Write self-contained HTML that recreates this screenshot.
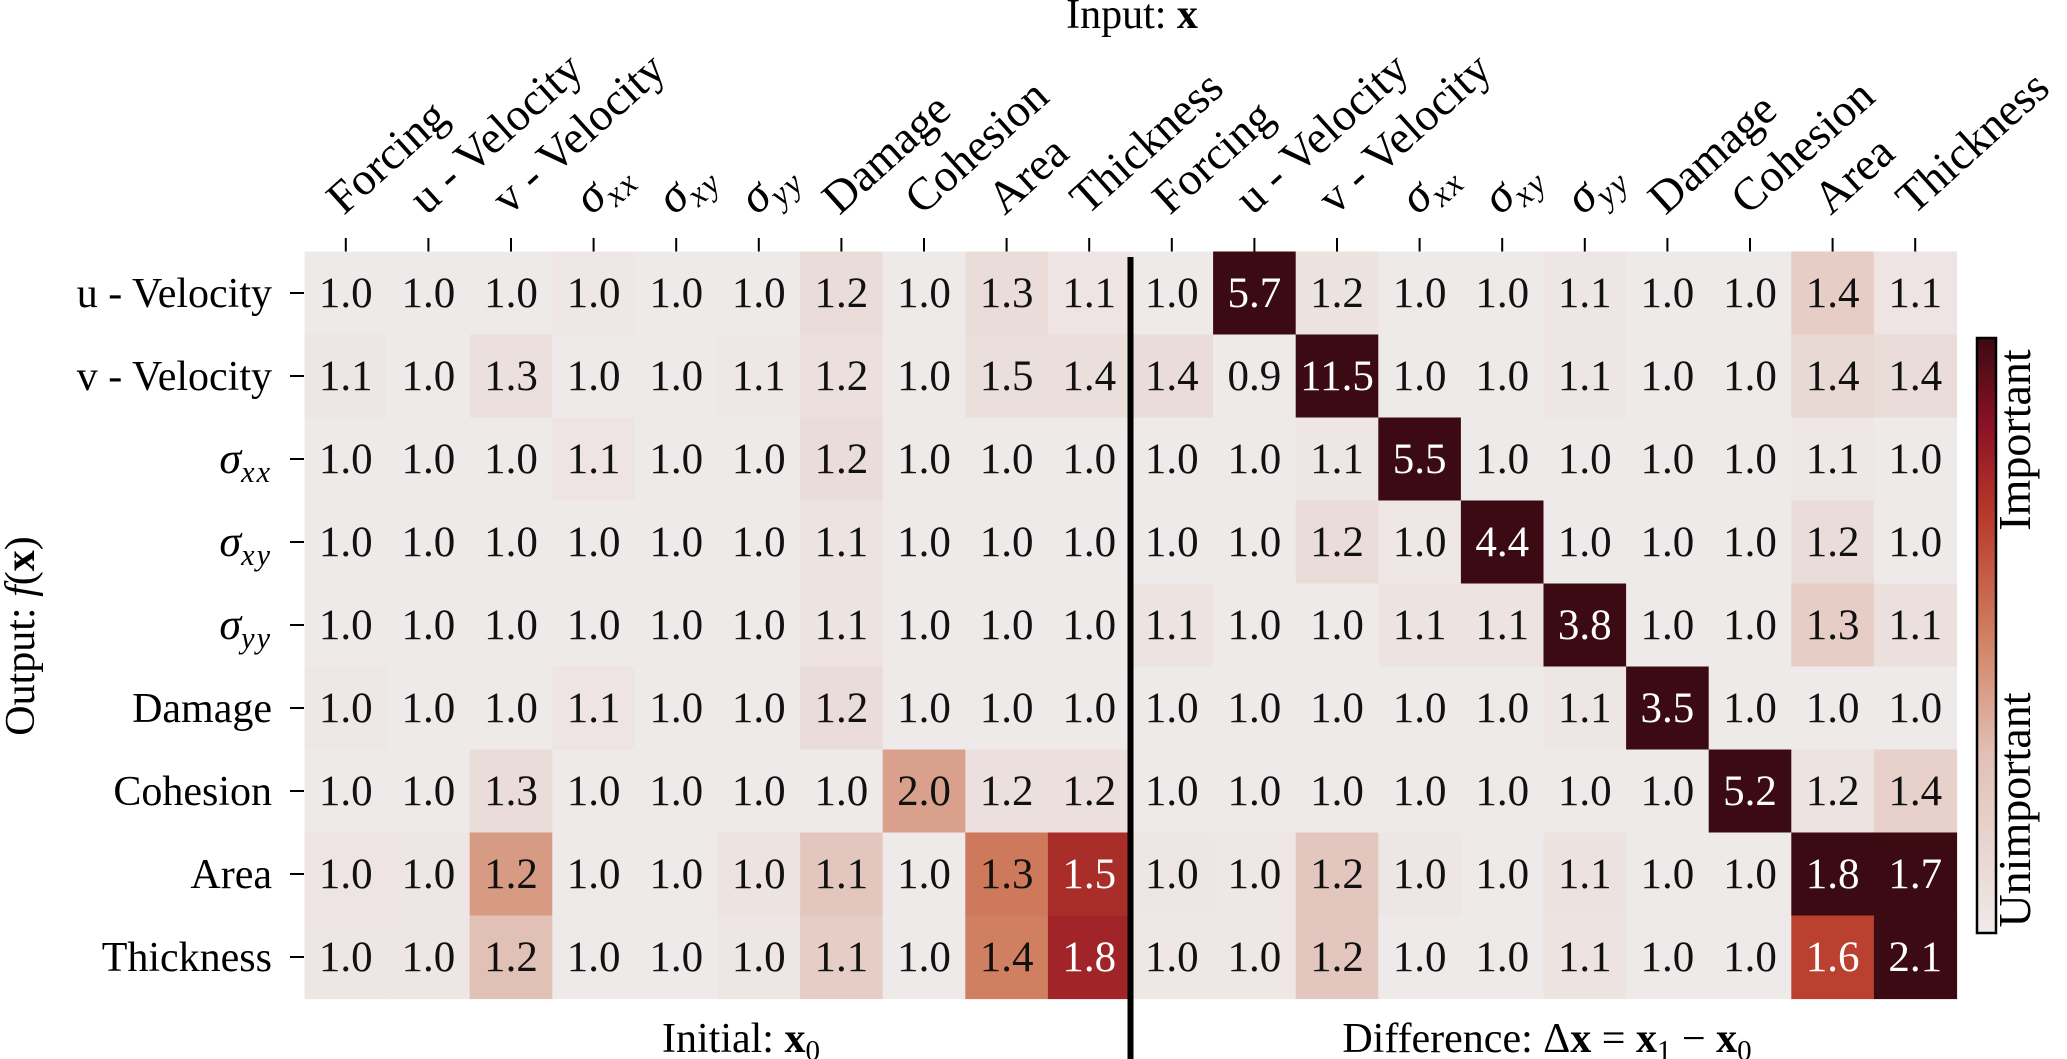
<!DOCTYPE html>
<html><head><meta charset="utf-8"><style>
html,body{margin:0;padding:0;background:#fff;}
svg{display:block;font-family:"Liberation Serif","DejaVu Serif",serif;}
</style></head><body>
<svg id="chart" width="2067" height="1059" viewBox="0 0 2067 1059" xmlns="http://www.w3.org/2000/svg"></svg>
<script>
const colLabels = ["Forcing","u - Velocity","v - Velocity","σxx","σxy","σyy","Damage","Cohesion","Area","Thickness"];
const rowLabels = ["u - Velocity","v - Velocity","σxx","σxy","σyy","Damage","Cohesion","Area","Thickness"];
const initialValues = [
 [1.0,1.0,1.0,1.0,1.0,1.0,1.2,1.0,1.3,1.1],
 [1.1,1.0,1.3,1.0,1.0,1.1,1.2,1.0,1.5,1.4],
 [1.0,1.0,1.0,1.1,1.0,1.0,1.2,1.0,1.0,1.0],
 [1.0,1.0,1.0,1.0,1.0,1.0,1.1,1.0,1.0,1.0],
 [1.0,1.0,1.0,1.0,1.0,1.0,1.1,1.0,1.0,1.0],
 [1.0,1.0,1.0,1.1,1.0,1.0,1.2,1.0,1.0,1.0],
 [1.0,1.0,1.3,1.0,1.0,1.0,1.0,2.0,1.2,1.2],
 [1.0,1.0,1.2,1.0,1.0,1.0,1.1,1.0,1.3,1.5],
 [1.0,1.0,1.2,1.0,1.0,1.0,1.1,1.0,1.4,1.8]];
const differenceValues = [
 [1.0,5.7,1.2,1.0,1.0,1.1,1.0,1.0,1.4,1.1],
 [1.4,0.9,11.5,1.0,1.0,1.1,1.0,1.0,1.4,1.4],
 [1.0,1.0,1.1,5.5,1.0,1.0,1.0,1.0,1.1,1.0],
 [1.0,1.0,1.2,1.0,4.4,1.0,1.0,1.0,1.2,1.0],
 [1.1,1.0,1.0,1.1,1.1,3.8,1.0,1.0,1.3,1.1],
 [1.0,1.0,1.0,1.0,1.0,1.1,3.5,1.0,1.0,1.0],
 [1.0,1.0,1.0,1.0,1.0,1.0,1.0,5.2,1.2,1.4],
 [1.0,1.0,1.2,1.0,1.0,1.1,1.0,1.0,1.8,1.7],
 [1.0,1.0,1.2,1.0,1.0,1.1,1.0,1.0,1.6,2.1]];
// normalised importance (colour intensity)
const initialImportance = [
 [0,0,0,0.02,0,0,0.1,0,0.1,0.04],
 [0.03,0,0.07,0,0,0.02,0.07,0,0.08,0.08],
 [0,0,0,0.04,0,0,0.1,0,0,0],
 [0,0,0,0,0,0,0.05,0,0,0],
 [0,0,0,0,0,0,0.05,0,0,0],
 [0.02,0,0,0.04,0,0,0.1,0,0,0],
 [0,0,0.1,0,0,0,0,0.4,0.07,0.07],
 [0.04,0.03,0.42,0,0,0.05,0.25,0,0.52,0.75],
 [0.03,0.03,0.3,0,0,0.03,0.2,0,0.5,0.78]];
const differenceImportance = [
 [0,1,0.06,0,0,0.03,0,0,0.2,0.04],
 [0.1,0,1,0,0,0.03,0,0,0.12,0.1],
 [0,0,0.03,1,0,0,0,0,0.02,0],
 [0,0,0.1,0.02,1,0,0,0,0.1,0],
 [0.05,0,0,0.05,0.05,1,0,0,0.2,0.07],
 [0,0,0,0,0,0.03,1,0,0,0],
 [0,0,0,0,0,0,0,1,0.05,0.18],
 [0.03,0.02,0.25,0.03,0,0.06,0,0,1,1],
 [0.02,0.02,0.25,0,0,0.05,0,0,0.68,1]];

const NS="http://www.w3.org/2000/svg";
const svg=document.getElementById('chart');
const X0=304.5, CW=82.6, Y0=251.5, RH=83.0;
const xPos=c=>X0+c*CW, yPos=r=>Y0+r*RH;
const stops=[[0,[239,234,234]],[0.3,[225,192,181]],[0.5,[208,128,96]],[0.7,[184,58,42]],[0.85,[140,18,38]],[1,[59,10,18]]];
function cmap(t){t=Math.max(0,Math.min(1,t));for(let i=1;i<stops.length;i++){if(t<=stops[i][0]){const a=stops[i-1],b=stops[i],f=(t-a[0])/(b[0]-a[0]);return 'rgb('+a[1].map((v,k)=>Math.round(v+(b[1][k]-v)*f)).join(',')+')';}}return 'rgb(59,10,18)';}
function mk(tag,attrs,parent){const e=document.createElementNS(NS,tag);for(const k in attrs)e.setAttribute(k,attrs[k]);(parent||svg).appendChild(e);return e;}
function labelContent(el,txt,size){
  if(txt.startsWith('σ')){const s=document.createElementNS(NS,'tspan');s.setAttribute('font-style','italic');s.setAttribute('font-size',size*1.05);s.textContent='σ';el.appendChild(s);
    const sub=document.createElementNS(NS,'tspan');sub.setAttribute('font-style','italic');sub.setAttribute('font-size',size*0.72);sub.setAttribute('dy',size*0.22);sub.setAttribute('letter-spacing','2');sub.textContent=txt.slice(1);el.appendChild(sub);}
  else el.textContent=txt;}
const g=mk('g',{});


function drawHalf(vals,imp,offset,name){
  vals.forEach((row,r)=>row.forEach((v,c)=>{
    const t=imp[r][c];
    const rect=mk('rect',{x:xPos(c+offset),y:yPos(r),width:CW+0.6,height:RH+0.6,fill:cmap(t)},g);
    
    
    const tx=mk('text',{x:xPos(c+offset)+CW/2,y:yPos(r)+RH/2+14,'text-anchor':'middle','font-size':43,fill:t>0.6?'#fff':'#111'},g);
    
    
    tx.textContent=v.toFixed(1);
  }));
}
drawHalf(initialValues,initialImportance,0,'initial');
drawHalf(differenceValues,differenceImportance,10,'difference');
// column ticks & labels
for(let c=0;c<20;c++){
  const cx=xPos(c)+CW/2;
  mk('line',{x1:cx,y1:238,x2:cx,y2:251.5,stroke:'#000','stroke-width':2});
  const t=mk('text',{x:cx-2,y:216,'font-size':46,transform:'rotate(-42 '+(cx-2)+' 216)'});
  
  
  labelContent(t,colLabels[c%10],46);
}
// row ticks & labels
rowLabels.forEach((l,r)=>{
  const cy=yPos(r)+RH/2;
  mk('line',{x1:290,y1:cy,x2:304,y2:cy,stroke:'#000','stroke-width':2});
  const t=mk('text',{x:272,y:cy+14,'font-size':42,'text-anchor':'end'});
  
  
  labelContent(t,l,42);
});
// separator
const sep=mk('line',{x1:xPos(10),y1:257,x2:xPos(10),y2:1059,stroke:'#000','stroke-width':6});


// titles
function title(x,y,html,name,extra){const t=mk('text',Object.assign({x:x,y:y,'font-size':42,'text-anchor':'middle'},extra||{}));t.innerHTML=html;return t;}
title(1132,28,'Input: <tspan font-weight="bold">x</tspan>','top-axis-title');
title(741,1052,'Initial: <tspan font-weight="bold">x</tspan><tspan font-size="29" dy="8">0</tspan>','initial-panel-title');
title(1547,1052,'Difference: Δ<tspan font-weight="bold">x</tspan> = <tspan font-weight="bold">x</tspan><tspan font-size="29" dy="8">1</tspan><tspan dy="-8"> − </tspan><tspan font-weight="bold">x</tspan><tspan font-size="29" dy="8">0</tspan>','difference-panel-title');
title(34,636,'Output: <tspan font-style="italic">f</tspan>(<tspan font-weight="bold">x</tspan>)','y-axis-title',{transform:'rotate(-90 34 636)'});
// colorbar
const defs=mk('defs',{});
const lg=mk('linearGradient',{id:'cb',x1:0,y1:1,x2:0,y2:0},defs);
for(let i=0;i<=20;i++)mk('stop',{offset:i/20,'stop-color':cmap(i/20)},lg);
const cb=mk('rect',{x:1977,y:338,width:19,height:595,fill:'url(#cb)',stroke:'#000','stroke-width':2.5});


title(2030,440,'Important','colorbar-label-important',{transform:'rotate(-90 2030 440)','font-size':46});
title(2030,810,'Unimportant','colorbar-label-unimportant',{transform:'rotate(-90 2030 810)','font-size':46});
</script>
</body></html>
